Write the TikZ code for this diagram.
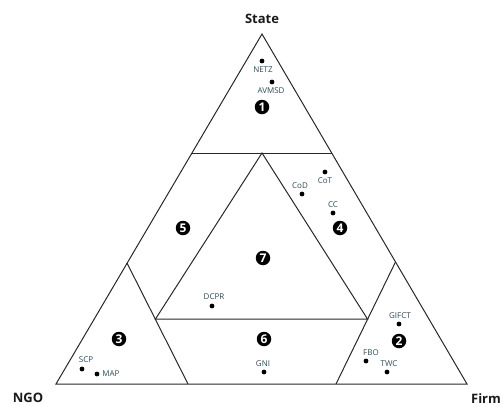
\documentclass[tikz,border=0pt]{standalone}
\usepackage{fontspec}
\setmainfont{Open Sans}
\usetikzlibrary{positioning,calc}
\definecolor{tagink}{RGB}{45,75,85}
\definecolor{edgeink}{RGB}{40,40,40}

\tikzset{
  edge/.style={line width=1pt,draw=edgeink,line join=miter},
  dot/.style={circle,fill=black,inner sep=0pt,minimum size=4.8pt},
  tag/.style={inner sep=1pt,text=tagink,font=\fontsize{8}{8}\selectfont},
  num/.style={circle,fill=black,inner sep=0pt,minimum size=14.5pt,
    text=white,font=\fontsize{12}{12}\selectfont\bfseries},
  actor/.style={font=\fontsize{13}{13}\selectfont\bfseries,text=black!90}
}

\begin{document}
\begin{tikzpicture}[x=1pt,y=-1pt]
  \useasboundingbox (0,0) rectangle (501,407);
  \coordinate (S) at (262,34);
  \coordinate (N) at (56,384);
  \coordinate (F) at (467,384);
  \coordinate (a1) at (192,153);
  \coordinate (a2) at (332,153);
  \coordinate (b) at (127,263);
  \coordinate (c) at (188,384);
  \coordinate (d) at (395.5,262);
  \coordinate (e) at (336,384);
  \coordinate (t) at (262,153);
  \coordinate (g) at (155.5,319);
  \coordinate (h) at (367.5,319);
  \draw[edge] (S) -- (N) -- (F) -- cycle;
  \draw[edge] (a1) -- (a2);
  \draw[edge] (b) -- (c);
  \draw[edge] (d) -- (e);
  \draw[edge] (g) -- (t) -- (h) -- cycle;

  \node[actor] (state) at (262,19) {State};
  \node[actor] (ngo) at (28,398) {NGO};
  \node[actor] (firm) at (486,399) {Firm};

  \node[num] (n1) at (262,107) {1};
  \node[num] (n2) at (399,341) {2};
  \node[num] (n3) at (119,339) {3};
  \node[num] (n4) at (340,228) {4};
  \node[num] (n5) at (183,228) {5};
  \node[num] (n6) at (264,339) {6};
  \node[num] (n7) at (263,258) {7};

  \node[dot] (netz) at (262,61) {};
  \node[tag,below=2pt of netz,xshift=1pt] {NETZ};
  \node[dot] (avmsd) at (272,82) {};
  \node[tag,below=2pt of avmsd,xshift=-1pt] {AVMSD};
  \node[dot] (cod) at (302,194) {};
  \node[tag,above=2pt of cod,xshift=-2pt] {CoD};
  \node[dot] (cot) at (325,172) {};
  \node[tag,below=2pt of cot] {CoT};
  \node[dot] (cc) at (333,213) {};
  \node[tag,above=2pt of cc] {CC};
  \node[dot] (gifct) at (399,324) {};
  \node[tag,above=2pt of gifct,xshift=1pt] {GIFCT};
  \node[dot] (fbo) at (366,361) {};
  \node[tag,above=2pt of fbo,xshift=5pt] {FBO};
  \node[dot] (twc) at (387,372) {};
  \node[tag,above=1.5pt of twc,xshift=2pt] {TWC};
  \node[dot] (scp) at (82,369) {};
  \node[tag,above=2.5pt of scp,xshift=4pt] {SCP};
  \node[dot] (map) at (97,374) {};
  \node[tag,right=1.5pt of map] {MAP};
  \node[dot] (dcpr) at (212,306) {};
  \node[tag,above=2.5pt of dcpr,xshift=2pt] {DCPR};
  \node[dot] (gni) at (264,372) {};
  \node[tag,above=2pt of gni,xshift=-1pt] {GNI};
\end{tikzpicture}
\end{document}
